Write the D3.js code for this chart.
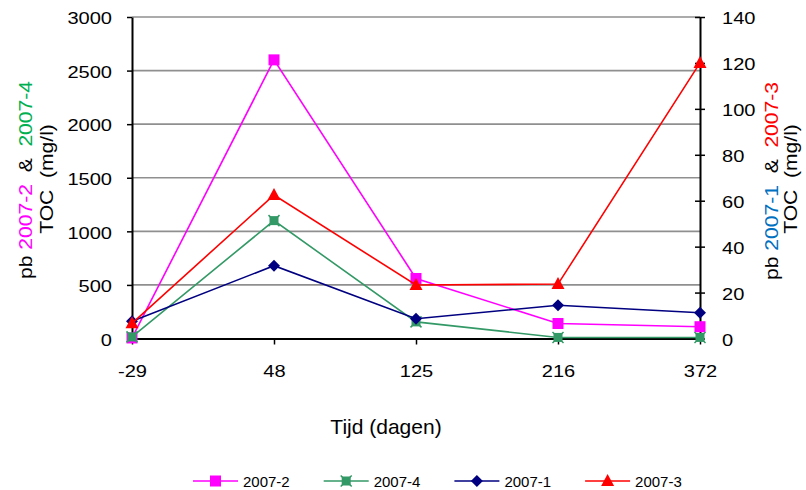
<!DOCTYPE html>
<html><head><meta charset="utf-8">
<script src="https://cdn.jsdelivr.net/npm/d3@7"></script>
<style>
body{margin:0;background:#fff;}
svg{display:block;font-family:"Liberation Sans",Arial,sans-serif;}
</style></head>
<body>
<svg id="c" width="806" height="490"></svg>
<script>
// ---- data ----
const categories = ["-29","48","125","216","372"];
const s2007_2 = [5, 2600, 560, 140, 110];     // left axis
const s2007_4 = [15, 1100, 155, 10, 10];      // left axis
const s2007_1 = [7.5, 31.7, 8.6, 14.5, 11.2]; // right axis
const s2007_3 = [6.6, 62.5, 23.3, 23.7, 120]; // right axis
const leftTicks = [0,500,1000,1500,2000,2500,3000];
const rightTicks = [0,20,40,60,80,100,120,140];

const svg = d3.select("#c");
const L = 132, R = 700, T = 17, B = 338.5;
const x = d3.scalePoint().domain(categories).range([L, R]);
const yL = d3.scaleLinear().domain([0,3000]).range([B, T]);
const yR = d3.scaleLinear().domain([0,140]).range([B, T]);

// gridlines
svg.append("g").selectAll("line").data(leftTicks.filter(d=>d>0)).join("line")
  .attr("x1", L).attr("x2", R).attr("y1", d=>yL(d)).attr("y2", d=>yL(d))
  .attr("stroke", "#8f8f8f").attr("stroke-width", 1.6);

function stretch(sel, f){
  sel.each(function(){
    const w = this.getComputedTextLength();
    d3.select(this).attr("textLength", w*f).attr("lengthAdjust","spacingAndGlyphs");
  });
}

const fmt = d3.format("d");
// left axis
const gl = svg.append("g").attr("transform", `translate(${L},0)`)
  .call(d3.axisLeft(yL).tickValues(leftTicks).tickFormat(fmt).tickSize(5).tickSizeOuter(0).tickPadding(15));
// right axis
const gr = svg.append("g").attr("transform", `translate(${R},0)`)
  .call(d3.axisRight(yR).tickValues(rightTicks).tickFormat(fmt).tickSize(5).tickSizeOuter(0).tickPadding(17));
gr.selectAll(".tick line").attr("x1", -5).attr("x2", 5);
// bottom axis
const gb = svg.append("g").attr("transform", `translate(0,${B})`)
  .call(d3.axisBottom(x).tickSize(6).tickSizeOuter(0).tickPadding(20.5));

[gl, gr, gb].forEach(g=>{
  g.select(".domain").attr("stroke","#000").attr("stroke-width",2);
  g.selectAll(".tick line").attr("stroke","#000").attr("stroke-width",1.5);
  g.selectAll("text").attr("font-size", 17).attr("fill","#000")
    .attr("font-family", '"Liberation Sans", Arial, sans-serif');
  stretch(g.selectAll("text"), 1.18);
});
gl.selectAll(".tick text").attr("dy","0.4em");
gr.selectAll(".tick text").attr("dy","0.4em");

// series
const series = [
  {name:"2007-2", vals:s2007_2, y:yL, color:"#FF00FF", marker:"square"},
  {name:"2007-4", vals:s2007_4, y:yL, color:"#339966", marker:"xsquare"},
  {name:"2007-1", vals:s2007_1, y:yR, color:"#000080", marker:"diamond"},
  {name:"2007-3", vals:s2007_3, y:yR, color:"#FF0000", marker:"triangle"}
];

function drawMarker(g, type, color, cx, cy){
  if(type==="square"){
    g.append("rect").attr("x",cx-5.5).attr("y",cy-5.5).attr("width",11).attr("height",11)
      .attr("fill",color);
  } else if(type==="xsquare"){
    g.append("rect").attr("x",cx-4.5).attr("y",cy-4.5).attr("width",9).attr("height",9).attr("fill",color);
    g.append("path").attr("d",`M${cx-5.5},${cy-5.5}L${cx+5.5},${cy+5.5}M${cx-5.5},${cy+5.5}L${cx+5.5},${cy-5.5}`)
      .attr("stroke",color).attr("stroke-width",1.5);
  } else if(type==="diamond"){
    g.append("path").attr("d",`M${cx},${cy-6}L${cx+6},${cy}L${cx},${cy+6}L${cx-6},${cy}Z`).attr("fill",color);
  } else if(type==="triangle"){
    g.append("path").attr("d",`M${cx},${cy-7}L${cx+6.5},${cy+5}L${cx-6.5},${cy+5}Z`).attr("fill",color);
  }
}

series.forEach(s=>{
  const g = svg.append("g");
  const line = d3.line().x((d,i)=>x(categories[i])).y(d=>s.y(d));
  g.append("path").datum(s.vals).attr("d", line).attr("fill","none")
    .attr("stroke", s.color).attr("stroke-width", 1.6);
  s.vals.forEach((v,i)=> drawMarker(g, s.marker, s.color, x(categories[i]), s.y(v)));
});

// axis titles
function vtitle(cx, cy, parts){
  const t = svg.append("g").attr("transform", `translate(${cx},${cy}) rotate(-90) scale(1.11,1)`)
    .append("text").attr("text-anchor","middle").attr("dy","0.36em").attr("font-size",19)
    .attr("xml:space","preserve").style("white-space","pre");
  parts.forEach(p=> t.append("tspan").text(p[0]).attr("fill", p[1]));
}
vtitle(25, 180, [["pb ","#000"],["2007-2","#FF00FF"],["  &  ","#000"],["2007-4","#00B050"]]);
vtitle(46, 179, [["TOC  (mg/l)","#000"]]);
vtitle(771, 181, [["pb ","#000"],["2007-1","#0070C0"],["  &  ","#000"],["2007-3","#FF0000"]]);
vtitle(790, 179, [["TOC  (mg/l)","#000"]]);

svg.append("text").attr("x",386).attr("y",434).attr("text-anchor","middle")
  .attr("font-size",21).text("Tijd (dagen)");

// legend
const lg = svg.append("g");
series.forEach((s,i)=>{
  const x0 = 193 + i*130.7, ly = 481;
  lg.append("line").attr("x1",x0).attr("x2",x0+45).attr("y1",ly).attr("y2",ly)
    .attr("stroke",s.color).attr("stroke-width",1.6);
  drawMarker(lg, s.marker, s.color, x0+22.5, ly);
  lg.append("text").attr("x",x0+50).attr("y",ly+5.5).attr("font-size",15).text(s.name);
});
</script>
</body></html>
